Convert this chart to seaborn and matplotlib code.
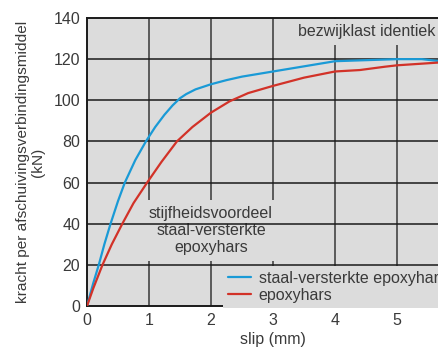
import numpy as np
import pandas as pd
import matplotlib
matplotlib.use("Agg")
import matplotlib.pyplot as plt
import seaborn as sns

sns.set_style("white")
plt.rcParams['font.family'] = ['Liberation Sans', 'DejaVu Sans']

# curves
slip_staal = [0, 0.1, 0.19, 0.28, 0.38, 0.5, 0.61, 0.78, 0.95, 1.1, 1.25, 1.38, 1.5, 1.6, 1.75,
              2.0, 2.25, 2.5, 3.0, 3.5, 4.0, 4.5, 5.0, 5.4, 5.7, 6.0]
kracht_staal = [0, 11, 20, 30, 40, 51, 60, 71, 80, 87, 93, 97.5, 101, 103, 105.3,
                107.8, 109.8, 111.5, 114, 116.5, 119, 119.5, 120, 120, 119, 118.5]
slip_epoxy = [0, 0.1, 0.25, 0.4, 0.57, 0.75, 0.97, 1.2, 1.45, 1.7, 2.0, 2.3, 2.6, 3.0,
              3.5, 4.0, 4.4, 4.8, 5.0, 5.5, 6.0]
kracht_epoxy = [0, 8.5, 20, 30, 40, 50, 60, 70, 80, 87, 94, 99.5, 103.5, 107,
                111, 114, 114.7, 116.3, 117, 118, 119]

labels = ["staal-versterkte epoxyhars", "epoxyhars"]
x_ticks = [0, 1, 2, 3, 4, 5]
y_ticks = [0, 20, 40, 60, 80, 100, 120, 140]

df = pd.concat([
  pd.DataFrame({"slip": slip_staal, "kracht": kracht_staal, "serie": labels[0]}),
  pd.DataFrame({"slip": slip_epoxy, "kracht": kracht_epoxy, "serie": labels[1]}),
])

txt = '#3a3a3a'
bg = '#dcdcdc'
fs = 11.5

fig = plt.figure(figsize=(4.39, 3.52), dpi=100)
ax = fig.add_axes([87/439, 46/352, 372/439, 288/352])
ax.set_facecolor(bg)

# vertical grid under the text boxes, horizontal grid above them
for xv in x_ticks[1:]:
  ax.axvline(xv, color='#505050', lw=1.3, zorder=1)
for yv in y_ticks[1:-1]:
  ax.axhline(yv, color='#1a1a1a', lw=1.1, zorder=3)

sns.lineplot(data=df, x="slip", y="kracht", hue="serie", ax=ax, sort=False,
             palette=['#1a9ad6', '#d23228'], linewidth=1.6, zorder=4, legend=False)

ax.text(4.51, 133.3, "bezwijklast identiek", ha='center', va='center', fontsize=fs,
        color=txt, zorder=2, bbox=dict(facecolor=bg, edgecolor='none', pad=4))
ax.text(2.0, 36.6, "stijfheidsvoordeel\nstaal-versterkte\nepoxyhars", ha='center', va='center',
        fontsize=fs, color=txt, zorder=2, linespacing=1.15,
        bbox=dict(facecolor=bg, edgecolor='none', pad=4.5))

# legend
handles = [plt.Line2D([], [], color='#1a9ad6', lw=1.6), plt.Line2D([], [], color='#d23228', lw=1.6)]
leg = ax.legend(handles, labels, loc='upper left', bbox_to_anchor=(2.2, 19.3),
                bbox_transform=ax.transData, frameon=True, fontsize=fs,
                handlelength=1.4, handletextpad=0.5, borderpad=0.3, labelspacing=0.12,
                borderaxespad=0, facecolor=bg, edgecolor='none', framealpha=1, fancybox=False)
leg.set_zorder(5)
for t in leg.get_texts():
  t.set_color(txt)

ax.set_xlim(0, 6)
ax.set_ylim(0, 140)
ax.set_xticks(x_ticks)
ax.set_yticks(y_ticks)
ax.tick_params(axis='both', length=0, labelsize=fs, labelcolor=txt, pad=5)
ax.set_xlabel("slip (mm)", fontsize=fs, color=txt, labelpad=3)
ax.set_ylabel("kracht per afschuivingsverbindingsmiddel\n(kN)", fontsize=11.1, color=txt,
              labelpad=6, linespacing=1.05)

for s in ax.spines.values():
  s.set_color('#1a1a1a')
  s.set_linewidth(1.4)

plt.savefig("out.png", dpi=100)
plt.close()
